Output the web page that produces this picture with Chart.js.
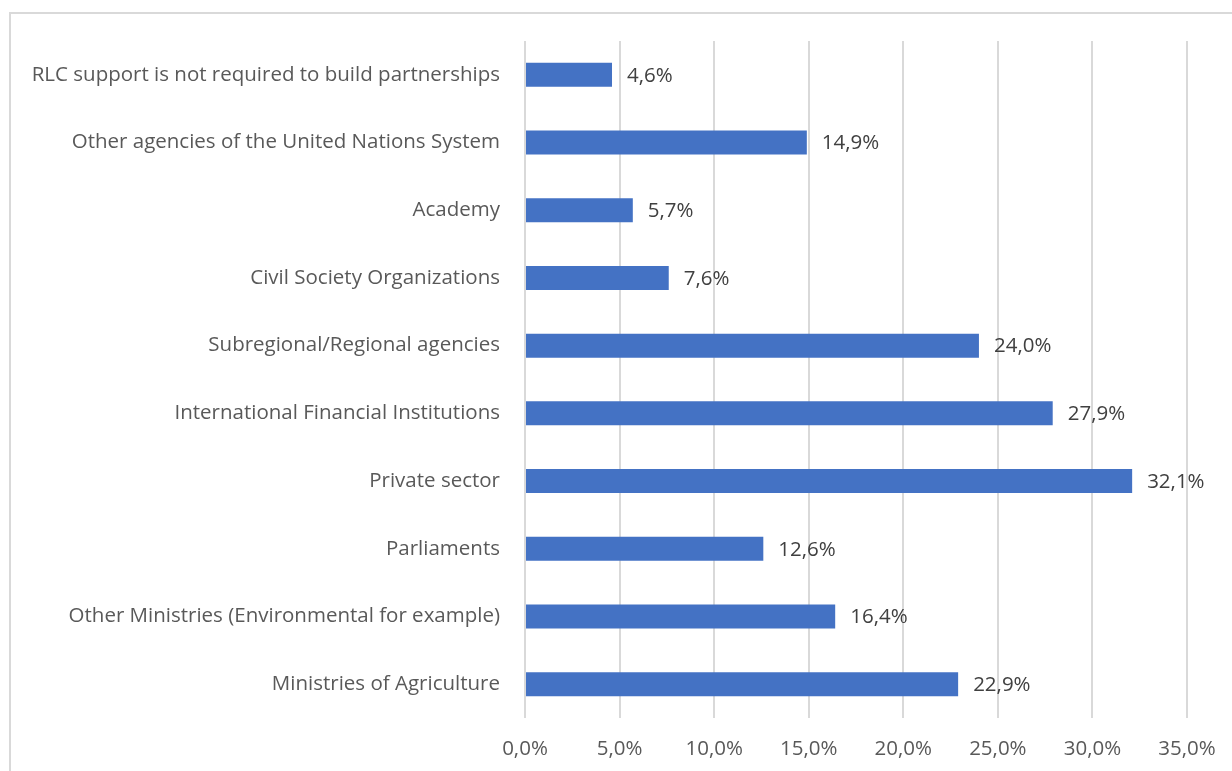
<!DOCTYPE html>
<html>
<head>
<meta charset="utf-8">
<script src="https://cdn.jsdelivr.net/npm/chart.js@4.4.0/dist/chart.umd.min.js"></script>
<style>
  html, body { margin: 0; padding: 0; background: #fff; }
  #wrap { position: relative; width: 1232px; height: 771px; overflow: hidden; }
  #frame { position: absolute; left: 9px; top: 12px; width: 1300px; height: 800px;
           border: 2px solid #d9d9d9; box-sizing: border-box; }
  #c { position: absolute; left: 0; top: 0; }
</style>
</head>
<body>
<div id="wrap">
  <div id="frame"></div>
  <canvas id="c" width="1232" height="771"></canvas>
</div>
<script>
const categories = [
  "RLC support is not required to build partnerships",
  "Other agencies of the United Nations System",
  "Academy",
  "Civil Society Organizations",
  "Subregional/Regional agencies",
  "International Financial Institutions",
  "Private sector",
  "Parliaments",
  "Other Ministries (Environmental for example)",
  "Ministries of Agriculture"
];
const shares = [4.6, 14.9, 5.7, 7.6, 24.0, 27.9, 32.1, 12.6, 16.4, 22.9];
const xTicks = [0, 5, 10, 15, 20, 25, 30, 35];

const FONT = "'Open Sans', sans-serif";
const SIZE = 20.5;
const fmt = v => v.toFixed(1).replace(".", ",") + "%";

// etiquettes de valeur au bout des barres
const valueLabels = {
  id: "valueLabels",
  afterDatasetsDraw(chart) {
    const ctx = chart.ctx;
    const meta = chart.getDatasetMeta(0);
    ctx.save();
    ctx.font = SIZE + "px " + FONT;
    ctx.fillStyle = "#404040";
    ctx.textAlign = "left";
    ctx.textBaseline = "middle";
    meta.data.forEach((bar, i) => {
      ctx.fillText(fmt(shares[i]), bar.x + 15, bar.y + 1);
    });
    ctx.restore();
  }
};

new Chart(document.getElementById("c"), {
  type: "bar",
  data: {
    labels: categories,
    datasets: [{
      data: shares,
      backgroundColor: "#4472c4",
      borderWidth: 0,
      barPercentage: 0.5,
      categoryPercentage: 0.71
    }]
  },
  options: {
    indexAxis: "y",
    responsive: false,
    animation: false,
    layout: { padding: { left: 0, top: 41, right: 45, bottom: 0 } },
    plugins: { legend: { display: false }, tooltip: { enabled: false } },
    scales: {
      x: {
        min: 0, max: 35,
        afterBuildTicks: s => { s.ticks = xTicks.map(v => ({ value: v })); },
        afterFit: s => { s.height = 53; s.paddingLeft = 0; s.paddingRight = 0; },
        grid: { color: "#d9d9d9", lineWidth: 2, drawTicks: false },
        border: { display: false },
        ticks: { color: "#595959", font: { family: FONT, size: SIZE }, padding: 19,
                 callback: v => fmt(v) }
      },
      y: {
        afterFit: s => { s.width = 525; },
        grid: { display: false, drawTicks: false },
        border: { display: false },
        ticks: { color: "#595959", font: { family: FONT, size: SIZE }, padding: 25 }
      }
    }
  },
  plugins: [valueLabels]
});
</script>
</body>
</html>
